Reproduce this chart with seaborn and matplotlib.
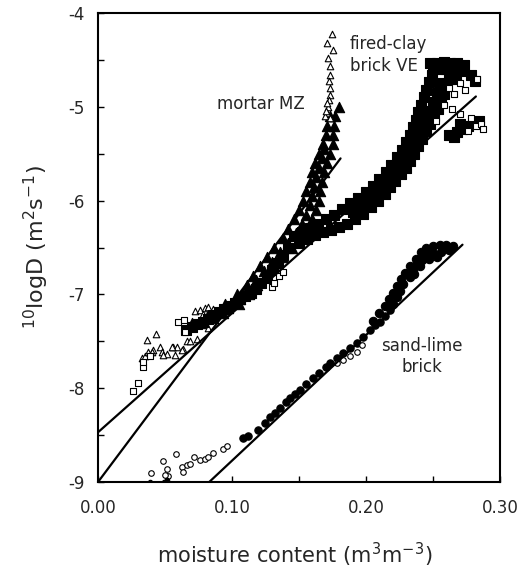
import matplotlib
matplotlib.use("Agg")
import matplotlib.pyplot as plt
import seaborn as sns

# ---- data ----
# mortar MZ (triangles): scattered points
mortar_x = [0.1743, 0.1706, 0.1756, 0.1718, 0.1731, 0.1731, 0.1726, 0.1731, 0.1731, 0.1726,
            0.1718, 0.1706, 0.1693, 0.1731, 0.1700, 0.1712,
            0.0363, 0.0430, 0.0463, 0.0408, 0.0475, 0.0512, 0.0574, 0.0557, 0.0587, 0.0636,
            0.0666, 0.0690, 0.0736, 0.0326, 0.0350, 0.0375, 0.0400, 0.0487, 0.0550, 0.0624,
            0.0724, 0.0761, 0.0798, 0.0780, 0.0821, 0.0860, 0.0820]
mortar_y = [-4.22, -4.32, -4.39, -4.48, -4.57, -4.66, -4.73, -4.80, -4.87, -4.93,
            -5.00, -5.07, -5.10, -5.12, -5.04, -4.96,
            -7.49, -7.42, -7.56, -7.59, -7.61, -7.64, -7.65, -7.56, -7.56, -7.58,
            -7.50, -7.50, -7.48, -7.68, -7.66, -7.61, -7.61, -7.65, -7.56, -7.59,
            -7.18, -7.17, -7.15, -7.21, -7.13, -7.16, -7.36]
# mortar MZ: dense part of the cloud
mortar_core_x = [0.173, 0.171, 0.170, 0.168, 0.165, 0.162, 0.160, 0.158, 0.155, 0.153, 0.150, 0.146,
                 0.142, 0.138, 0.131, 0.126, 0.121, 0.116, 0.111, 0.104, 0.095, 0.083, 0.070,
                 0.180, 0.177, 0.176, 0.175, 0.175, 0.173, 0.171, 0.169, 0.167, 0.166, 0.165, 0.163,
                 0.160, 0.156, 0.151, 0.145, 0.138, 0.131, 0.125, 0.119, 0.113, 0.105, 0.093, 0.079,
                 0.169, 0.167, 0.165, 0.163, 0.161, 0.160, 0.158, 0.155, 0.152, 0.148, 0.142, 0.136,
                 0.130, 0.124, 0.118, 0.112, 0.106, 0.097, 0.086]
mortar_core_y = [-5.10, -5.20, -5.30, -5.40, -5.50, -5.60, -5.70, -5.80, -5.90, -6.00, -6.10, -6.20,
                 -6.30, -6.40, -6.50, -6.60, -6.70, -6.80, -6.90, -7.00, -7.10, -7.20, -7.30,
                 -5.00, -5.10, -5.20, -5.30, -5.40, -5.50, -5.60, -5.70, -5.80, -5.90, -6.00, -6.10,
                 -6.20, -6.30, -6.40, -6.50, -6.60, -6.70, -6.80, -6.90, -7.00, -7.10, -7.20, -7.30,
                 -5.45, -5.55, -5.65, -5.75, -5.85, -5.95, -6.05, -6.15, -6.25, -6.35, -6.45, -6.55,
                 -6.65, -6.75, -6.85, -6.95, -7.05, -7.15, -7.25]

# fired-clay brick VE (squares): scattered points
clay_x = [0.0259, 0.0301, 0.0338, 0.0338, 0.0388, 0.0599, 0.0642, 0.0649,
          0.1296, 0.1310, 0.1350, 0.1383,
          0.262, 0.266, 0.270, 0.274, 0.258, 0.264, 0.270, 0.278, 0.282, 0.286, 0.276, 0.252,
          0.283, 0.287]
clay_y = [-8.03, -7.94, -7.77, -7.72, -7.66, -7.29, -7.27, -7.40,
          -6.92, -6.88, -6.80, -6.76,
          -4.80, -4.86, -4.75, -4.82, -4.98, -5.02, -5.08, -5.12, -5.20, -5.18, -5.26, -5.15,
          -4.70, -5.24]
# fired-clay brick VE: dense part of the cloud
clay_core_x = [0.146, 0.152, 0.158, 0.164, 0.170, 0.176, 0.182, 0.188, 0.194, 0.200, 0.205, 0.210,
               0.215, 0.219, 0.223, 0.227, 0.230, 0.233, 0.235, 0.237, 0.239, 0.241, 0.243, 0.245,
               0.247, 0.249, 0.250,
               0.150, 0.156, 0.162, 0.168, 0.174, 0.180, 0.186, 0.192, 0.198, 0.204, 0.209, 0.214,
               0.218, 0.222, 0.226, 0.230, 0.233, 0.236, 0.239, 0.242, 0.245, 0.248, 0.251, 0.254,
               0.256, 0.258, 0.260, 0.262, 0.264,
               0.190, 0.196, 0.202, 0.207, 0.212, 0.216, 0.220, 0.224, 0.228, 0.232, 0.236, 0.240,
               0.244, 0.247, 0.250, 0.253, 0.255,
               0.248, 0.253, 0.258, 0.263, 0.268, 0.273, 0.255, 0.260, 0.266, 0.272, 0.278, 0.281,
               0.267,
               0.262, 0.266, 0.268, 0.272, 0.276, 0.280, 0.284, 0.270,
               0.066, 0.070, 0.074, 0.078, 0.082, 0.086, 0.090, 0.094, 0.098, 0.102, 0.106, 0.110,
               0.114, 0.118, 0.122, 0.126, 0.130, 0.134, 0.138, 0.142]
clay_core_y = [-6.38, -6.33, -6.29, -6.25, -6.20, -6.15, -6.09, -6.03, -5.97, -5.91, -5.84, -5.77,
               -5.70, -5.62, -5.54, -5.46, -5.38, -5.30, -5.22, -5.14, -5.06, -4.98, -4.90, -4.82,
               -4.74, -4.66, -4.58,
               -6.45, -6.41, -6.37, -6.34, -6.31, -6.28, -6.25, -6.20, -6.14, -6.07, -6.00, -5.93,
               -5.86, -5.79, -5.72, -5.65, -5.58, -5.50, -5.42, -5.34, -5.26, -5.18, -5.10, -5.02,
               -4.94, -4.86, -4.78, -4.70, -4.62,
               -6.12, -6.05, -5.99, -5.92, -5.85, -5.78, -5.71, -5.63, -5.55, -5.47, -5.36, -5.25,
               -5.15, -5.05, -4.95, -4.85, -4.75,
               -4.53, -4.53, -4.52, -4.53, -4.53, -4.55, -4.60, -4.60, -4.61, -4.62, -4.66, -4.72,
               -4.70,
               -5.30, -5.32, -5.27, -5.24, -5.20, -5.17, -5.15, -5.18,
               -7.38, -7.35, -7.32, -7.29, -7.26, -7.22, -7.19, -7.16, -7.12, -7.09, -7.05, -7.02,
               -6.98, -6.94, -6.88, -6.82, -6.74, -6.66, -6.58, -6.50]

# sand-lime brick (circles): scattered points
sand_x = [0.0393, 0.0483, 0.0512, 0.0525, 0.0500, 0.0580, 0.0624, 0.0637, 0.0662, 0.0686,
          0.0718, 0.0761, 0.0798, 0.0823, 0.0856, 0.0935, 0.0960,
          0.183, 0.188, 0.193, 0.1967, 0.178]
sand_y = [-8.90, -8.78, -8.86, -8.94, -8.92, -8.70, -8.84, -8.89, -8.82, -8.81,
          -8.73, -8.77, -8.75, -8.73, -8.69, -8.65, -8.62,
          -7.70, -7.66, -7.61, -7.54, -7.73]
# sand-lime brick: points lying on the x axis
sand_dot_x = [0.0388, 0.0492, 0.0517]
sand_dot_y = [-9.0, -9.0, -8.98]
# sand-lime brick: thin, dense part of the cloud
sand_core_x = [0.1084, 0.112, 0.1196, 0.1246, 0.1283, 0.132, 0.1358, 0.140, 0.1432, 0.147, 0.1507,
               0.155, 0.1606, 0.165, 0.170, 0.1731, 0.178, 0.183, 0.188, 0.193, 0.198, 0.2029,
               0.207, 0.2104, 0.214, 0.2178]
sand_core_y = [-8.53, -8.51, -8.45, -8.37, -8.31, -8.26, -8.21, -8.15, -8.10, -8.06, -8.02,
               -7.96, -7.89, -7.84, -7.77, -7.73, -7.68, -7.63, -7.57, -7.52, -7.45, -7.38,
               -7.33, -7.29, -7.23, -7.17]
# sand-lime brick: thick blob at the top of the cloud
sand_blob_x = [0.220, 0.2228, 0.225, 0.2278, 0.2328, 0.235, 0.2377, 0.2452,
               0.205, 0.210, 0.214, 0.217, 0.220, 0.223, 0.226, 0.229, 0.233, 0.237, 0.241, 0.245,
               0.250, 0.255, 0.260, 0.265, 0.250, 0.256, 0.262, 0.242, 0.247, 0.253, 0.240, 0.236]
sand_blob_y = [-7.10, -7.03, -6.96, -6.89, -6.81, -6.74, -6.68, -6.57,
               -7.28, -7.20, -7.12, -7.05, -6.98, -6.91, -6.84, -6.77, -6.70, -6.62, -6.55, -6.50,
               -6.48, -6.47, -6.47, -6.48, -6.56, -6.55, -6.53, -6.63, -6.62, -6.60, -6.70, -6.78]

# straight-line fits (end points)
fit_mortar_x = [0.0, 0.181]
fit_mortar_y = [-9.0, -5.55]
fit_clay_x = [0.0, 0.282]
fit_clay_y = [-8.47, -4.89]
fit_sand_x = [0.083, 0.272]
fit_sand_y = [-9.0, -6.47]

x_ticks = [0.0, 0.1, 0.2, 0.3]
x_tick_labels = ["0.00", "0.10", "0.20", "0.30"]
y_ticks = [-9, -8, -7, -6, -5, -4]
y_tick_labels = ["-9", "-8", "-7", "-6", "-5", "-4"]

# ---- style ----
sns.set_style("white")
plt.rcParams['font.family'] = ['DejaVu Sans']
plt.rcParams['mathtext.default'] = 'regular'

fig = plt.figure(figsize=(5.25, 5.68), dpi=100)
ax = fig.add_axes([0.1867, 0.1514, 0.7657, 0.8257])

open_kw = dict(facecolor='white', edgecolor='black', linewidth=0.8, legend=False, ax=ax)
fill_kw = dict(color='black', edgecolor='black', linewidth=0.8, legend=False, ax=ax)

# mortar MZ
sns.scatterplot(x=mortar_core_x, y=mortar_core_y, marker='^', s=55, **fill_kw)
sns.scatterplot(x=mortar_x, y=mortar_y, marker='^', s=22, **open_kw)
# fired-clay brick VE
sns.scatterplot(x=clay_core_x, y=clay_core_y, marker='s', s=45, **fill_kw)
sns.scatterplot(x=clay_x, y=clay_y, marker='s', s=20, **open_kw)
# sand-lime brick
sns.scatterplot(x=sand_core_x, y=sand_core_y, marker='o', s=28, **fill_kw)
sns.scatterplot(x=sand_blob_x, y=sand_blob_y, marker='o', s=36, **fill_kw)
sns.scatterplot(x=sand_x, y=sand_y, marker='o', s=16, **open_kw)
sns.scatterplot(x=sand_dot_x, y=sand_dot_y, marker='o', s=10, **fill_kw)

# fitted lines
for fx, fy in [(fit_mortar_x, fit_mortar_y), (fit_clay_x, fit_clay_y), (fit_sand_x, fit_sand_y)]:
    sns.lineplot(x=fx, y=fy, color='black', linewidth=1.6, ax=ax, zorder=5)

# labels inside the plot
ax.text(0.0888, -4.97, "mortar MZ", fontsize=12, ha='left', va='center')
ax.text(0.188, -4.45, "fired-clay\nbrick VE", fontsize=12, ha='left', va='center', linespacing=1.25)
ax.text(0.2418, -7.66, "sand-lime\nbrick", fontsize=12, ha='center', va='center',
        multialignment='center', linespacing=1.25)

# axes, ticks and labels
ax.set_xlim(0, 0.3)
ax.set_ylim(-9, -4)
ax.set_xticks(x_ticks)
ax.set_xticklabels(x_tick_labels)
ax.set_yticks(y_ticks)
ax.set_yticklabels(y_tick_labels)
ax.set_xticks([0.05, 0.15, 0.25], minor=True)
ax.set_yticks([-8.5, -7.5, -6.5, -5.5, -4.5], minor=True)
ax.tick_params(which='both', direction='in', length=4, width=1, top=False, right=False,
               bottom=True, left=True, color='black')
ax.tick_params(axis='x', which='major', labelsize=12, pad=12)
ax.tick_params(axis='y', which='major', labelsize=12, pad=10)

for spine in ax.spines.values():
    spine.set_linewidth(1.5)
    spine.set_color('black')

ax.set_xlabel("moisture content (m$^{3}$m$^{-3}$)", fontsize=15)
ax.xaxis.set_label_coords(0.49, -0.125)
ax.set_ylabel("$^{10}$logD (m$^{2}$s$^{-1}$)", fontsize=16, labelpad=12)

fig.savefig("out.png", dpi=100)
